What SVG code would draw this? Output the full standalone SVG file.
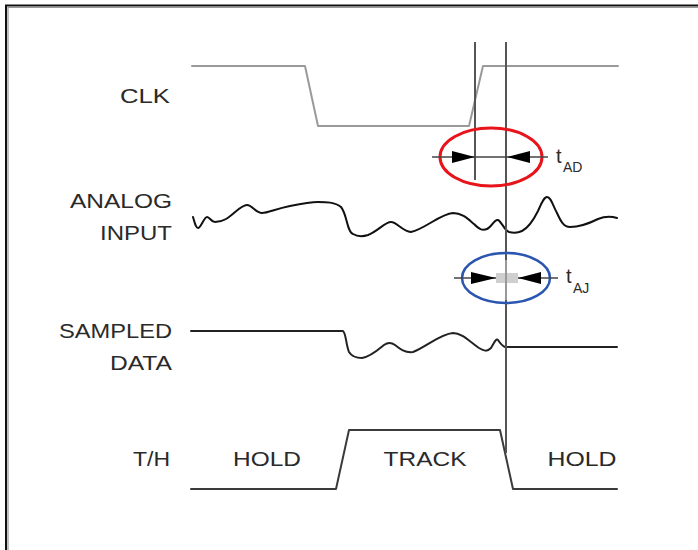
<svg xmlns="http://www.w3.org/2000/svg" width="698" height="550" viewBox="0 0 698 550">
<style>
.lbl{font-family:"Liberation Sans",Arial,sans-serif;font-size:21px;fill:#2a2a2a}
.sub{font-family:"Liberation Sans",Arial,sans-serif;fill:#2a2a2a}
.sig{fill:none;stroke-width:2;stroke-linejoin:round;stroke-linecap:round}
.vline{stroke:#555;stroke-width:2;fill:none}
.dim{stroke:#444;stroke-width:1.6;fill:none}
.head{fill:#000}
</style>
<rect x="0" y="0" width="698" height="550" fill="#fff"/>
<g id="frame">
<path d="M6,550 V5.5 H698" fill="none" stroke="#111" stroke-width="2"/>
<path d="M8,550 V7.5 H698" fill="none" stroke="#999" stroke-width="1.2"/>
</g>
<g id="labels">
<text class="lbl" x="170" y="103" text-anchor="end" textLength="50" lengthAdjust="spacingAndGlyphs">CLK</text>
<text class="lbl" x="172" y="208" text-anchor="end" textLength="102" lengthAdjust="spacingAndGlyphs">ANALOG</text>
<text class="lbl" x="172" y="240" text-anchor="end" textLength="72" lengthAdjust="spacingAndGlyphs">INPUT</text>
<text class="lbl" x="172" y="338" text-anchor="end" textLength="113" lengthAdjust="spacingAndGlyphs">SAMPLED</text>
<text class="lbl" x="172" y="370" text-anchor="end" textLength="62" lengthAdjust="spacingAndGlyphs">DATA</text>
<text class="lbl" x="170" y="466" text-anchor="end" textLength="37" lengthAdjust="spacingAndGlyphs">T/H</text>
</g>
<g id="clk">
<path class="sig" stroke="#9a9a9a" d="M192,66 H305 L318,126 H469 L483,66 H618"/>
</g>
<g id="analog-input">
<path class="sig" stroke="#111" d="M193,217 C195,224 196,228 198,228 C201,228 204,217 207,217 C210,217 211,222 215,222 C219,222 221,222 226,219 C234,214 241,205 247,205 C252,205 256,213 262,213 C268,213 275,209 290,206 C300,204 310,202 318,202 C326,202 335,202 341,207 C347,214 347,232 353,234 C358,237 362,237 368,235 C378,231 385,222 391,222 C397,222 402,231 411,232 C425,229 440,214 453,213 C462,213 468,219 474,224 C479,229 482,231 487,229 C492,227 494,219 498,220 C502,222 504,230 509,232 C513,233 518,233 522,231 C528,228 534,219 538,211 C542,202 544,197 547,197 C551,197 553,206 557,213 C561,222 564,227 570,227 C578,227 588,224 598,219 C605,216 611,216 617,218"/>
</g>
<g id="sampled-data">
<path class="sig" stroke="#222" d="M191,331 H343 C346,333 346,345 349,352 C352,357 356,358 362,358 C370,357 378,350 384,345 C388,342 391,342 395,345 C400,349 405,353 413,352 C426,347 440,334 453,333 C462,333 470,342 479,348 C484,351 487,352 491,348 C494,343 496,338 498,340 C500,343 502,346 505,347 H617"/>
</g>
<g id="track-hold">
<path class="sig" stroke="#3a3a3a" d="M191,489 H336 L349,430 H500 L513,489 H617"/>
<text class="lbl" x="267" y="466" text-anchor="middle" textLength="68" lengthAdjust="spacingAndGlyphs">HOLD</text>
<text class="lbl" x="425" y="466" text-anchor="middle" textLength="83" lengthAdjust="spacingAndGlyphs">TRACK</text>
<text class="lbl" x="582" y="466" text-anchor="middle" textLength="69" lengthAdjust="spacingAndGlyphs">HOLD</text>
</g>
<g id="connectors">
<line class="vline" x1="475" y1="42" x2="475" y2="180"/>
<line class="vline" x1="506" y1="42" x2="506" y2="453"/>
</g>
<g id="t-ad">
<ellipse cx="491" cy="157" rx="51" ry="29" fill="none" stroke="#e8141b" stroke-width="3"/>
<line class="dim" x1="432" y1="157" x2="548" y2="157"/>
<polygon class="head" points="475,157 452,151 452,163"/>
<polygon class="head" points="507,157 530,151 530,163"/>
<text class="sub" x="556" y="163" font-size="20">t</text>
<text class="sub" x="563" y="172" font-size="14">AD</text>
</g>
<g id="t-aj">
<ellipse cx="506" cy="278" rx="44" ry="25" fill="none" stroke="#2a56b0" stroke-width="2.5"/>
<line class="dim" x1="454" y1="278" x2="558" y2="278"/>
<rect x="496" y="273" width="22" height="10" fill="#cfcfcf"/>
<line x1="506" y1="260" x2="506" y2="300" stroke="#999" stroke-width="2"/>
<polygon class="head" points="496,278 471,272 471,284"/>
<polygon class="head" points="518,278 541,272 541,284"/>
<text class="sub" x="566" y="283" font-size="20">t</text>
<text class="sub" x="573" y="293" font-size="14">AJ</text>
</g>
</svg>
